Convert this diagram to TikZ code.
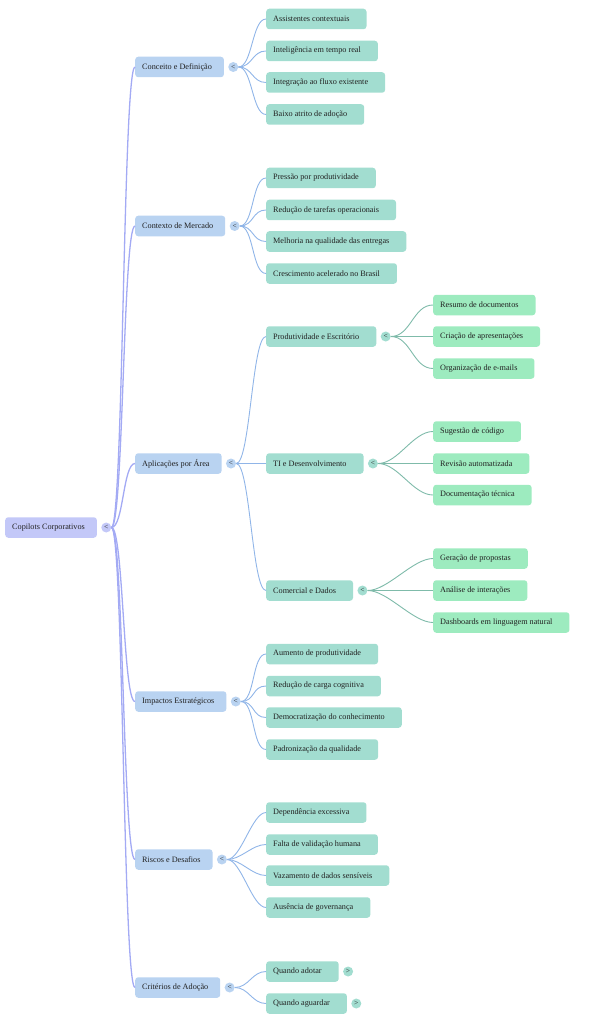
\documentclass[tikz,border=0pt]{standalone}
\usepackage{fontspec}
\setmainfont{Liberation Serif}
\usetikzlibrary{positioning}
\definecolor{rootc}{HTML}{C3C8F8}
\definecolor{rootl}{HTML}{A3AAF4}
\definecolor{catc}{HTML}{B9D3F1}
\definecolor{catl}{HTML}{90B5E8}
\definecolor{itemc}{HTML}{A2DDD0}
\definecolor{iteml}{HTML}{7FBBAA}
\definecolor{leafc}{HTML}{9DEBBF}
\definecolor{txt}{HTML}{222222}
\begin{document}
\begin{tikzpicture}[x=1pt,y=-1pt,
box/.style = {anchor=west, rounded corners=3pt, minimum height=20.5pt, inner xsep=7pt, inner ysep=0pt, text=txt, font=\fontsize{8.2}{9}\selectfont},
rootbox/.style = {box, fill=rootc, execute at end node=\hspace*{5pt}}, catbox/.style = {box, fill=catc, execute at end node=\hspace*{5pt}},
itembox/.style = {box, fill=itemc, execute at end node=\hspace*{10pt}}, leafbox/.style = {box, fill=leafc, execute at end node=\hspace*{10pt}},
knob/.style = {circle, inner sep=0pt, minimum size=10pt, text=txt, font=\fontsize{7.5}{7.5}\selectfont, right=4pt of #1},
rootedge/.style = {draw=rootl, line width=1.3pt}, catedge/.style = {draw=catl, line width=0.9pt}, itemedge/.style = {draw=iteml, line width=0.9pt}]
\useasboundingbox (0,0) rectangle (589,1024);
\node[rootbox](root) at (5,527.5) {Copilots Corporativos}; \node[knob=root, fill=rootc](kroot) {<};
\node[catbox](conc) at (135,67) {Conceito e Definição}; \node[knob=conc, fill=catc](kconc) {<};
\node[catbox](merc) at (135,226) {Contexto de Mercado}; \node[knob=merc, fill=catc](kmerc) {<};
\node[catbox](apl) at (135,463.5) {Aplicações por Área}; \node[knob=apl, fill=catc](kapl) {<};
\node[catbox](imp) at (135,701.5) {Impactos Estratégicos}; \node[knob=imp, fill=catc](kimp) {<};
\node[catbox](risc) at (135,859.5) {Riscos e Desafios}; \node[knob=risc, fill=catc](krisc) {<};
\node[catbox](crit) at (135,987.5) {Critérios de Adoção}; \node[knob=crit, fill=catc](kcrit) {<};
\node[itembox](conc1) at (266,19) {Assistentes contextuais}; \node[itembox](conc2) at (266,51) {Inteligência em tempo real};
\node[itembox](conc3) at (266,82.5) {Integração ao fluxo existente}; \node[itembox](conc4) at (266,114.5) {Baixo atrito de adoção};
\node[itembox](merc1) at (266,178) {Pressão por produtividade}; \node[itembox](merc2) at (266,210) {Redução de tarefas operacionais};
\node[itembox](merc3) at (266,241.5) {Melhoria na qualidade das entregas}; \node[itembox](merc4) at (266,273.5) {Crescimento acelerado no Brasil};
\node[itembox](prod) at (266,336.5) {Produtividade e Escritório}; \node[knob=prod, fill=itemc](kprod) {<};
\node[itembox](ti) at (266,463.5) {TI e Desenvolvimento}; \node[knob=ti, fill=itemc](kti) {<};
\node[itembox](com) at (266,590.5) {Comercial e Dados}; \node[knob=com, fill=itemc](kcom) {<};
\node[leafbox](prod1) at (433,305) {Resumo de documentos}; \node[leafbox](prod2) at (433,336.5) {Criação de apresentações};
\node[leafbox](prod3) at (433,368.5) {Organização de e-mails};
\node[leafbox](ti1) at (433,431.5) {Sugestão de código}; \node[leafbox](ti2) at (433,463.5) {Revisão automatizada};
\node[leafbox](ti3) at (433,495) {Documentação técnica};
\node[leafbox](com1) at (433,558.5) {Geração de propostas}; \node[leafbox](com2) at (433,590.5) {Análise de interações};
\node[leafbox](com3) at (433,622.5) {Dashboards em linguagem natural};
\node[itembox](imp1) at (266,654) {Aumento de produtividade}; \node[itembox](imp2) at (266,686) {Redução de carga cognitiva};
\node[itembox](imp3) at (266,717.5) {Democratização do conhecimento}; \node[itembox](imp4) at (266,749.5) {Padronização da qualidade};
\node[itembox](risc1) at (266,812.5) {Dependência excessiva}; \node[itembox](risc2) at (266,844.5) {Falta de validação humana};
\node[itembox](risc3) at (266,875.5) {Vazamento de dados sensíveis}; \node[itembox](risc4) at (266,907.5) {Ausência de governança};
\node[itembox](crit1) at (266,971.5) {Quando adotar}; \node[knob=crit1, fill=itemc](kcrit1) {>};
\node[itembox](crit2) at (266,1003.5) {Quando aguardar}; \node[knob=crit2, fill=itemc](kcrit2) {>};
\draw[rootedge] (kroot.east) .. controls +(12,0) and +(-12,0) .. (conc.west); \draw[rootedge] (kroot.east) .. controls +(12,0) and +(-12,0) .. (merc.west);
\draw[rootedge] (kroot.east) .. controls +(12,0) and +(-12,0) .. (apl.west); \draw[rootedge] (kroot.east) .. controls +(12,0) and +(-12,0) .. (imp.west);
\draw[rootedge] (kroot.east) .. controls +(12,0) and +(-12,0) .. (risc.west); \draw[rootedge] (kroot.east) .. controls +(12,0) and +(-12,0) .. (crit.west);
\draw[catedge] (kconc.east) .. controls +(14,0) and +(-14,0) .. (conc1.west); \draw[catedge] (kconc.east) .. controls +(14,0) and +(-14,0) .. (conc2.west);
\draw[catedge] (kconc.east) .. controls +(14,0) and +(-14,0) .. (conc3.west); \draw[catedge] (kconc.east) .. controls +(14,0) and +(-14,0) .. (conc4.west);
\draw[catedge] (kmerc.east) .. controls +(14,0) and +(-14,0) .. (merc1.west); \draw[catedge] (kmerc.east) .. controls +(14,0) and +(-14,0) .. (merc2.west);
\draw[catedge] (kmerc.east) .. controls +(14,0) and +(-14,0) .. (merc3.west); \draw[catedge] (kmerc.east) .. controls +(14,0) and +(-14,0) .. (merc4.west);
\draw[catedge] (kapl.east) .. controls +(14,0) and +(-14,0) .. (prod.west); \draw[catedge] (kapl.east) .. controls +(14,0) and +(-14,0) .. (ti.west);
\draw[catedge] (kapl.east) .. controls +(14,0) and +(-14,0) .. (com.west);
\draw[catedge] (kimp.east) .. controls +(14,0) and +(-14,0) .. (imp1.west); \draw[catedge] (kimp.east) .. controls +(14,0) and +(-14,0) .. (imp2.west);
\draw[catedge] (kimp.east) .. controls +(14,0) and +(-14,0) .. (imp3.west); \draw[catedge] (kimp.east) .. controls +(14,0) and +(-14,0) .. (imp4.west);
\draw[catedge] (krisc.east) .. controls +(14,0) and +(-14,0) .. (risc1.west); \draw[catedge] (krisc.east) .. controls +(14,0) and +(-14,0) .. (risc2.west);
\draw[catedge] (krisc.east) .. controls +(14,0) and +(-14,0) .. (risc3.west); \draw[catedge] (krisc.east) .. controls +(14,0) and +(-14,0) .. (risc4.west);
\draw[catedge] (kcrit.east) .. controls +(14,0) and +(-14,0) .. (crit1.west); \draw[catedge] (kcrit.east) .. controls +(14,0) and +(-14,0) .. (crit2.west);
\draw[itemedge] (kprod.east) .. controls +(20,0) and +(-20,0) .. (prod1.west); \draw[itemedge] (kprod.east) .. controls +(20,0) and +(-20,0) .. (prod2.west);
\draw[itemedge] (kprod.east) .. controls +(20,0) and +(-20,0) .. (prod3.west);
\draw[itemedge] (kti.east) .. controls +(20,0) and +(-20,0) .. (ti1.west); \draw[itemedge] (kti.east) .. controls +(20,0) and +(-20,0) .. (ti2.west);
\draw[itemedge] (kti.east) .. controls +(20,0) and +(-20,0) .. (ti3.west);
\draw[itemedge] (kcom.east) .. controls +(20,0) and +(-20,0) .. (com1.west); \draw[itemedge] (kcom.east) .. controls +(20,0) and +(-20,0) .. (com2.west);
\draw[itemedge] (kcom.east) .. controls +(20,0) and +(-20,0) .. (com3.west);
\end{tikzpicture}
\end{document}
